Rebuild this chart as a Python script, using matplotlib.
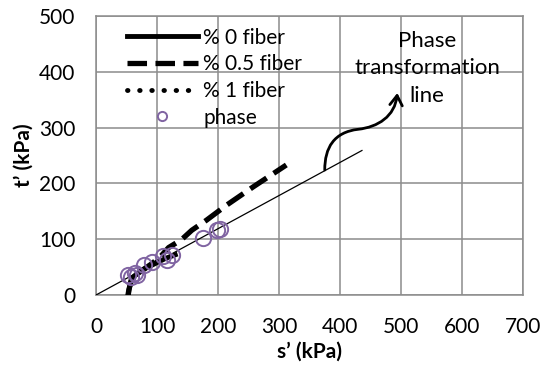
import numpy as np
from matplotlib import pyplot as plt
from matplotlib.path import Path
from matplotlib.patches import FancyArrowPatch

plt.rcParams['font.family'] = ['Lato', 'DejaVu Sans']

# 0 % fiber (solid)
s_0 = [53, 54, 56, 58, 64, 80, 100, 115, 130]
t_0 = [-3, 8, 20, 30, 35, 47, 58, 66, 72]
# 0.5 % fiber (dashed)
s_05 = [52, 54, 57, 60, 70, 90, 105, 119, 140, 157, 181, 214, 258, 312]
t_05 = [-3, 10, 22, 32, 40, 55, 68, 85, 99, 116, 134, 161, 194, 233]
# 1 % fiber (dotted)
s_1 = [52, 55, 58, 62, 75, 95, 110]
t_1 = [-3, 12, 25, 34, 44, 57, 66]
# phase transformation points
s_ph = [53, 58, 64, 68, 78, 91, 110, 116, 124, 176, 198, 203]
t_ph = [35, 33, 39, 35, 54, 60, 69, 63, 72, 102, 116, 118]
# phase transformation line
s_line = [0, 436]
t_line = [0, 259]

fig = plt.figure(figsize=(5.42, 3.71), dpi=100)
ax = fig.add_axes([96 / 542, 76 / 371, 427 / 542, 279 / 371])

ax.plot(s_line, t_line, color='black', lw=0.9, zorder=3)
ax.plot(s_1, t_1, color='black', lw=3.5, ls=(0, (0.1, 2.4)), dash_capstyle='round',
        label='% 1 fiber', zorder=4)
ax.plot(s_05, t_05, color='black', lw=3.8, ls=(0, (3.7, 1.6)), label='% 0.5 fiber', zorder=4)
ax.plot(s_0, t_0, color='black', lw=3.5, label='% 0 fiber', zorder=5)
ax.plot(s_ph, t_ph, ls='none', marker='o', ms=11, mfc='none', mec='#8064A2', mew=1.4,
        label='phase', zorder=6)

# curved arrow to the annotation
verts = [(375, 224), (375, 264), (390, 292), (430, 297),
         (462, 301), (490, 320), (494, 362)]
codes = [Path.MOVETO, Path.CURVE4, Path.CURVE4, Path.CURVE4,
         Path.CURVE4, Path.CURVE4, Path.CURVE4]
arrow = FancyArrowPatch(path=Path(verts, codes), arrowstyle='->,head_length=7,head_width=4.5',
                        color='black', lw=2, zorder=5)
ax.add_patch(arrow)
ax.text(543, 406, 'Phase\ntransformation\nline', ha='center', va='center',
        fontsize=16, linespacing=1.45, zorder=6)

ax.set_xlim(0, 700)
ax.set_ylim(0, 500)
ax.set_xticks(np.arange(0, 701, 100))
ax.set_yticks(np.arange(0, 501, 100))
ax.grid(True, color='#8c8c8c', lw=1.1)
ax.set_axisbelow(True)
for sp in ax.spines.values():
    sp.set_color('#8c8c8c')
    sp.set_linewidth(1.1)
ax.tick_params(length=0, labelsize=15)
ax.tick_params(axis='x', pad=16)
ax.tick_params(axis='y', pad=15)
ax.set_xlabel('s\u2019 (kPa)', fontsize=15, fontweight='bold', labelpad=3)
ax.set_ylabel('t\u2019 (kPa)', fontsize=15, fontweight='bold', labelpad=4)

handles, labels = ax.get_legend_handles_labels()
order = [2, 1, 0, 3]
ax.legend([handles[i] for i in order], [labels[i] for i in order],
          loc='upper left', bbox_to_anchor=(31 / 427, 0.958), frameon=False,
          fontsize=15, handlelength=3.4, handletextpad=0.25, labelspacing=0.32,
          borderpad=0, borderaxespad=0, markerscale=0.6)

plt.savefig('out.png')
